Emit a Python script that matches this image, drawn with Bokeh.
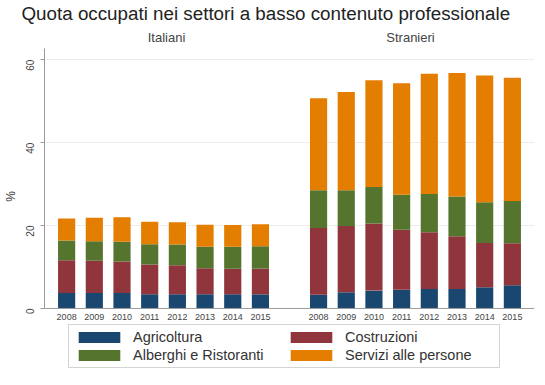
import math
from bokeh.plotting import figure
from bokeh.core.properties import value
from bokeh.models import (FactorRange, Range1d, ColumnDataSource, Label, Legend,
                          LegendItem, FixedTicker, Span)
from bokeh.embed import file_html
from bokeh.resources import INLINE

# ---- data ----
years = ["2008", "2009", "2010", "2011", "2012", "2013", "2014", "2015"]
groups = ["Italiani", "Stranieri"]
sectors = ["Agricoltura", "Costruzioni", "Alberghi e Ristoranti", "Servizi alle persone"]
colors = ["#1a476f", "#90353b", "#55752f", "#e37e00"]

ita_agricoltura = [3.7, 3.7, 3.7, 3.4, 3.4, 3.4, 3.4, 3.4]
ita_costruzioni = [7.9, 7.8, 7.6, 7.2, 7.0, 6.3, 6.2, 6.2]
ita_alberghi = [4.8, 4.7, 4.8, 4.9, 5.0, 5.2, 5.3, 5.4]
ita_servizi = [5.3, 5.7, 5.9, 5.4, 5.4, 5.3, 5.2, 5.3]

str_agricoltura = [3.3, 3.9, 4.3, 4.5, 4.7, 4.7, 5.1, 5.6]
str_costruzioni = [16.1, 16.0, 16.2, 14.5, 13.7, 12.7, 10.7, 10.1]
str_alberghi = [9.1, 8.6, 8.8, 8.4, 9.2, 9.6, 9.8, 10.2]
str_servizi = [22.2, 23.7, 25.7, 26.9, 29.0, 29.8, 30.6, 29.7]

y_ticks = [0, 20, 40, 60]
title_text = "Quota occupati nei settori a basso contenuto professionale"

# ---- build source ----
factors = [(g, y) for g in groups for y in years]
keys = ["agr", "cos", "alb", "ser"]
source = ColumnDataSource(data=dict(
    x=factors,
    year=years + years,
    base=[0] * len(factors),
    agr=ita_agricoltura + str_agricoltura,
    cos=ita_costruzioni + str_costruzioni,
    alb=ita_alberghi + str_alberghi,
    ser=ita_servizi + str_servizi,
))

p = figure(width=535, height=369,
           x_range=FactorRange(*factors, group_padding=1.1, range_padding=0.035),
           y_range=Range1d(-14.72, 68.71),
           output_backend="svg", toolbar_location=None,
           min_border_left=43, min_border_right=1, min_border_top=0, min_border_bottom=0)
p.outline_line_color = None
p.background_fill_color = "white"
p.border_fill_color = "white"
p.xaxis.visible = False
p.xgrid.visible = False
p.ygrid.grid_line_color = "#ececec"

# title
p.title.text = title_text
p.title.align = "left"
p.title.offset = -23
p.title.standoff = 0
p.title.text_font_size = "18.8px"
p.title.text_font = "Liberation Sans"
p.title.text_font_style = "normal"
p.title.text_color = "#222222"

renderers = p.vbar_stack(keys, x="x", width=0.62, color=colors, line_color=None, source=source)

# baseline (x axis line)
p.add_layout(Span(location=0, dimension="width", line_color="#9a9a9a", line_width=1))

# year labels under the bars
p.text(x="x", y="base", text="year", source=source, text_align="center",
       text_baseline="top", y_offset=6, text_font_size=value("9px"),
       text_font=value("Liberation Sans"), text_color="#444444")

# y axis
p.yaxis.ticker = FixedTicker(ticks=y_ticks)
p.yaxis.bounds = (0, 62.6)
p.yaxis.major_label_orientation = math.pi / 2
p.yaxis.major_label_text_font_size = "10px"
p.yaxis.major_label_text_font = "Liberation Sans"
p.yaxis.major_label_text_color = "#444444"
p.yaxis.major_tick_out = 4
p.yaxis.major_tick_in = 0
p.yaxis.major_tick_line_color = "#9a9a9a"
p.yaxis.minor_tick_line_color = None
p.yaxis.axis_line_color = "#9a9a9a"
p.yaxis.major_label_standoff = 10
p.yaxis.axis_label = "%"
p.yaxis.axis_label_text_font_style = "normal"
p.yaxis.axis_label_text_font_size = "12px"
p.yaxis.axis_label_text_font = "Liberation Sans"
p.yaxis.axis_label_text_color = "#333333"
p.yaxis.axis_label_standoff = 2

# panel labels
for name, xc in zip(groups, [122, 366]):
    p.add_layout(Label(x=xc, y=65.3, x_units="screen", y_units="data", text=name,
                       text_align="center", text_baseline="middle", text_font_size="13px",
                       text_font="Liberation Sans", text_color="#444444"))

# legend
order = [0, 2, 1, 3]
items = [LegendItem(label=sectors[i], renderers=[renderers[i]]) for i in order]
legend = Legend(items=items, ncols=2, location=(24, 1),
                glyph_width=52, glyph_height=14, label_height=14, label_width=150,
                label_standoff=8, spacing=2, padding=4, label_text_font_size="14.5px",
                label_text_font="Liberation Sans", label_text_color="#333333",
                border_line_color="#aaaaaa", background_fill_color="white",
                background_fill_alpha=1.0, margin=0)
p.add_layout(legend, "center")

open("out.html", "w").write(file_html(p, INLINE))
